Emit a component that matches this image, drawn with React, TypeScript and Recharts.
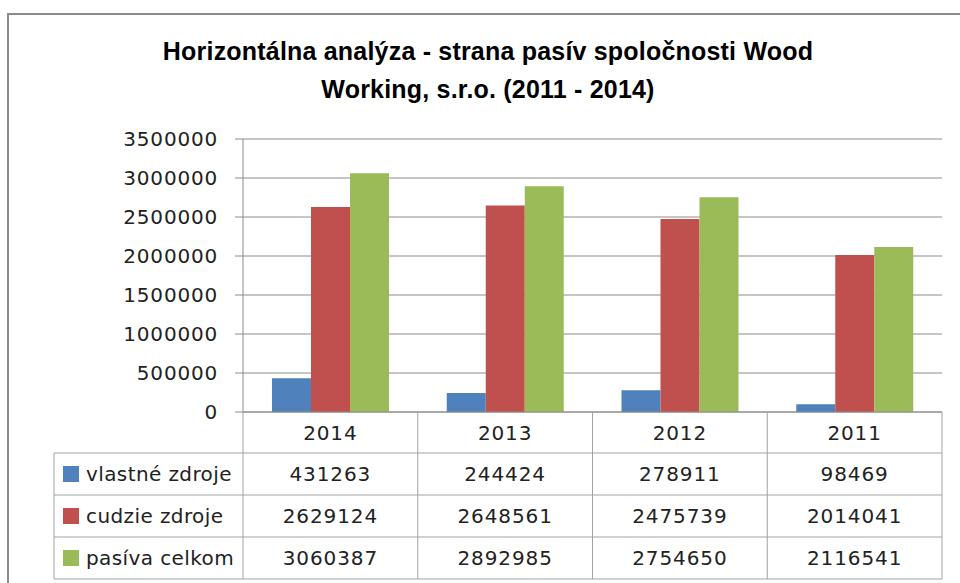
import { Bar, BarChart, CartesianGrid, XAxis, YAxis } from "recharts";

const YEARS = ["2014", "2013", "2012", "2011"];
const SERIES_NAMES = ["vlastné zdroje", "cudzie zdroje", "pasíva celkom"];
const VLASTNE_ZDROJE = [431263, 244424, 278911, 98469];
const CUDZIE_ZDROJE = [2629124, 2648561, 2475739, 2014041];
const PASIVA_CELKOM = [3060387, 2892985, 2754650, 2116541];
const Y_TICKS = [0, 500000, 1000000, 1500000, 2000000, 2500000, 3000000, 3500000];

const SERIES_KEYS = ["vlastne", "cudzie", "pasiva"];
const SERIES_COLORS = ["#4f81bd", "#c0504d", "#9bbb59"];

const data = YEARS.map((year, i) => ({
	year,
	vlastne: VLASTNE_ZDROJE[i],
	cudzie: CUDZIE_ZDROJE[i],
	pasiva: PASIVA_CELKOM[i],
}));

const WIDTH = 960;
const HEIGHT = 583;
const MARGIN = { top: 139, right: 18, bottom: 4, left: 0 };
const Y_AXIS_W = 243;
const X_AXIS_H = 167;
const PLOT_W = WIDTH - MARGIN.left - MARGIN.right - Y_AXIS_W;
const LEGEND_LEFT = 54;
const HEADER_H = 41;
const ROW_H = 42;

const FONT = "'DejaVu Sans', sans-serif";
const TEXT = "#222";
const TABLE_LINE = "#a3a3a3";
const GRID_LINE = "#8c8c8c";

// the x axis draws the data table: one column per year, plus the legend column for the first
function TableColumn(props: any) {
	const { x, y, payload, index } = props;
	const half = payload?.offset || PLOT_W / YEARS.length / 2;
	const left = x - half;
	const right = x + half;
	const rowYs = [0, 1, 2, 3].map((k) => y + HEADER_H + k * ROW_H);
	const bottom = rowYs[3];
	const i = index ?? YEARS.indexOf(payload.value);
	const values = [VLASTNE_ZDROJE[i], CUDZIE_ZDROJE[i], PASIVA_CELKOM[i]];

	return (
		<g>
			<text
				x={x}
				y={y + HEADER_H / 2 + 7}
				textAnchor="middle"
				fontSize={20}
				letterSpacing={0.9}
				fontFamily={FONT}
				fill={TEXT}
			>
				{payload.value}
			</text>
			{values.map((v, k) => (
				<text
					key={k}
					x={x}
					y={rowYs[k] + ROW_H / 2 + 7}
					textAnchor="middle"
					fontSize={20}
					letterSpacing={0.9}
					fontFamily={FONT}
					fill={TEXT}
				>
					{v}
				</text>
			))}
			{rowYs.map((ry, k) => (
				<line key={k} x1={left} x2={right} y1={ry} y2={ry} stroke={TABLE_LINE} />
			))}
			<line x1={right} x2={right} y1={y} y2={bottom} stroke={TABLE_LINE} />
			{i === 0 && (
				<g>
					<line x1={left} x2={left} y1={y} y2={bottom} stroke={TABLE_LINE} />
					<line x1={LEGEND_LEFT} x2={LEGEND_LEFT} y1={rowYs[0]} y2={bottom} stroke={TABLE_LINE} />
					{rowYs.map((ry, k) => (
						<line key={k} x1={LEGEND_LEFT} x2={left} y1={ry} y2={ry} stroke={TABLE_LINE} />
					))}
					{SERIES_NAMES.map((name, k) => (
						<g key={name}>
							<rect
								x={LEGEND_LEFT + 9}
								y={rowYs[k] + 13}
								width={16}
								height={16}
								fill={SERIES_COLORS[k]}
							/>
							<text
								x={LEGEND_LEFT + 32}
								y={rowYs[k] + ROW_H / 2 + 7}
								fontSize={20}
								letterSpacing={0.4}
								fontFamily={FONT}
								fill={TEXT}
							>
								{name}
							</text>
						</g>
					))}
				</g>
			)}
		</g>
	);
}

export default function App() {
	return (
		<div
			style={{
				position: "fixed",
				left: 0,
				top: 0,
				width: WIDTH,
				height: HEIGHT,
				overflow: "hidden",
				background: "#fff",
			}}
		>
			<div
				style={{
					position: "absolute",
					left: 7,
					top: 13,
					width: 1000,
					height: 700,
					border: "2px solid #8c8c8c",
				}}
			/>
			<div
				style={{
					position: "absolute",
					left: 8,
					top: 32,
					width: 960,
					textAlign: "center",
					fontFamily: "'Liberation Sans', sans-serif",
					fontWeight: "bold",
					fontSize: 25,
					letterSpacing: 0.2,
					lineHeight: "38px",
					color: "#000",
				}}
			>
				Horizontálna analýza - strana pasív spoločnosti Wood
				<br />
				Working, s.r.o. (2011 - 2014)
			</div>
			<div style={{ position: "absolute", left: 0, top: 0 }}>
				<BarChart
					width={WIDTH}
					height={HEIGHT}
					data={data}
					margin={MARGIN}
					barCategoryGap={29}
					barGap={0}
				>
					<CartesianGrid vertical={false} stroke={GRID_LINE} />
					<XAxis
						dataKey="year"
						height={X_AXIS_H}
						axisLine={{ stroke: GRID_LINE }}
						tickLine={false}
						tickSize={0}
						tickMargin={0}
						interval={0}
						tick={<TableColumn />}
					/>
					<YAxis
						width={Y_AXIS_W}
						domain={[0, 3500000]}
						ticks={Y_TICKS}
						interval={0}
						axisLine={{ stroke: GRID_LINE }}
						tickLine={{ stroke: GRID_LINE }}
						tickSize={8}
						tickMargin={17}
						tick={{
							fill: TEXT,
							fontSize: 20,
							fontFamily: FONT,
							letterSpacing: 0.8,
						}}
					/>
					{SERIES_KEYS.map((key, k) => (
						<Bar
							key={key}
							dataKey={key}
							name={SERIES_NAMES[k]}
							fill={SERIES_COLORS[k]}
							isAnimationActive={false}
						/>
					))}
				</BarChart>
			</div>
		</div>
	);
}
